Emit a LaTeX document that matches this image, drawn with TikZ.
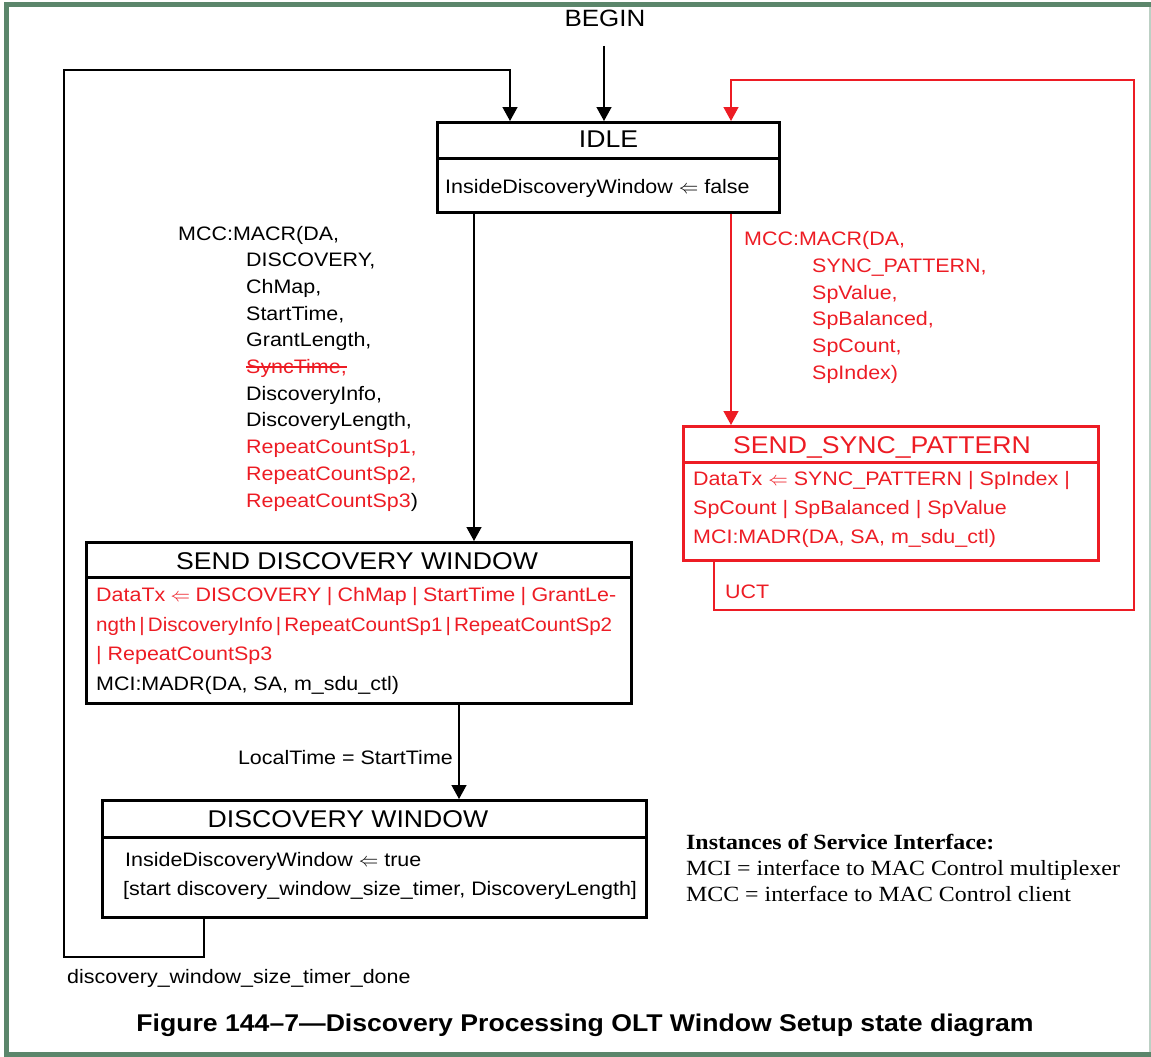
\RequirePackage{fix-cm}
\documentclass[tikz,border=0pt]{standalone}
\usepackage{graphicx}
\usepackage{fontspec}
\setmainfont{Liberation Sans}[FakeStretch=1.1]
\newfontfamily\legendfont{Liberation Serif}[FakeStretch=1.1]
\usetikzlibrary{arrows.meta}

\definecolor{sred}{RGB}{237,28,36}
\definecolor{frame}{RGB}{91,134,107}
\definecolor{framelt}{RGB}{188,208,196}

% struck-through text
\newsavebox\strikebox
\newcommand\strikeout[1]{\sbox\strikebox{#1}\rlap{\rule[0.3em]{\wd\strikebox}{0.075em}}\usebox\strikebox}
\newcommand\lar{\ensuremath{\Leftarrow}}

\begin{document}
\begin{tikzpicture}[x=1pt,y=-1pt,
  txt/.style={inner sep=0pt, font=\fontsize{19.5}{26.7}\selectfont},
  ttl/.style={inner sep=0pt, anchor=base, font=\fontsize{24.2}{28}\selectfont},
  sbox/.style={draw, line width=3pt, inner sep=0pt},
  divider/.style={line width=3pt},
  link/.style={line width=1.4pt, -{Triangle[width=15pt,length=14pt]}},
]
\useasboundingbox (0,0) rectangle (1151,1057);

% page frame
\draw[frame, line width=5pt] (6.5,1057) -- (6.5,4.5) -- (1151,4.5);
\draw[frame, line width=5pt] (4,1054.5) -- (1151,1054.5);
\draw[framelt, line width=1.5pt] (1149.75,7) -- (1149.75,1052);

% IDLE
\node[sbox, minimum width=342pt, minimum height=90pt] (idle) at (608.5,167.5) {};
\draw[divider] (idle.west |- 0,158) -- (idle.east |- 0,158);
\node[ttl] (idlettl) at (608.5,147) {IDLE};
\node[txt, anchor=base west] (idletxt) at (445,193) {InsideDiscoveryWindow \lar{} false};

% SEND_SYNC_PATTERN
\node[sbox, draw=sred, minimum width=415pt, minimum height=134pt] (ssp) at (891,493.5) {};
\draw[divider, sred] (ssp.west |- 0,462) -- (ssp.east |- 0,462);
\node[ttl, sred] (sspttl) at (882,453) {SEND\_SYNC\_PATTERN};
\node[txt, sred, anchor=base west, font=\fontsize{19.5}{29.3}\selectfont] (ssptxt) at (693,485)
  {\begin{tabular}[t]{@{}l@{}}DataTx \lar{} SYNC\_PATTERN | SpIndex |\\
   SpCount | SpBalanced | SpValue\\
   MCI:MADR(DA, SA, m\_sdu\_ctl)\end{tabular}};

% SEND DISCOVERY WINDOW
\node[sbox, minimum width=545pt, minimum height=161pt] (sdw) at (359,623) {};
\draw[divider] (sdw.west |- 0,577) -- (sdw.east |- 0,577);
\node[ttl] (sdwttl) at (357,569) {SEND DISCOVERY WINDOW};
\node[txt, anchor=base west, font=\fontsize{19.5}{29.5}\selectfont] (sdwtxt) at (96,601.5)
  {\begin{tabular}[t]{@{}l@{}}\textcolor{sred}{\makebox[520pt][s]{DataTx \lar{} DISCOVERY | ChMap | StartTime | GrantLe-}}\\
   \textcolor{sred}{\resizebox{516pt}{\height}{ngth\,|\,DiscoveryInfo\,|\,RepeatCountSp1\,|\,RepeatCountSp2}}\\
   \textcolor{sred}{| RepeatCountSp3}\\
   MCI:MADR(DA, SA, m\_sdu\_ctl)\end{tabular}};

% DISCOVERY WINDOW
\node[sbox, minimum width=544pt, minimum height=117pt] (dw) at (374.5,859) {};
\draw[divider] (dw.west |- 0,837) -- (dw.east |- 0,837);
\node[ttl] (dwttl) at (348,827) {DISCOVERY WINDOW};
\node[txt, anchor=base west, font=\fontsize{19.5}{29}\selectfont] (dwtxt) at (123,866)
  {\begin{tabular}[t]{@{}l@{}}\hspace{2pt}InsideDiscoveryWindow \lar{} true\\
   {[start discovery\_window\_size\_timer, DiscoveryLength]}\end{tabular}};

% transition conditions
\node[ttl, font=\fontsize{23.6}{28}\selectfont] (begin) at (605,27) {BEGIN};
\node[txt, anchor=base west] (mcc1) at (178,240) {MCC:MACR(DA,};
\node[txt, anchor=base west] (mcc2) at (246,266.7)
  {\begin{tabular}[t]{@{}l@{}}DISCOVERY,\\ ChMap,\\ StartTime,\\ GrantLength,\\
   \textcolor{sred}{\strikeout{SyncTime,}}\\ DiscoveryInfo,\\ DiscoveryLength,\\
   \textcolor{sred}{RepeatCountSp1,}\\ \textcolor{sred}{RepeatCountSp2,}\\
   \textcolor{sred}{RepeatCountSp3})\end{tabular}};
\node[txt, sred, anchor=base west] (mccr1) at (744,245.7) {MCC:MACR(DA,};
\node[txt, sred, anchor=base west] (mccr2) at (812,272.4)
  {\begin{tabular}[t]{@{}l@{}}SYNC\_PATTERN,\\ SpValue,\\ SpBalanced,\\ SpCount,\\ SpIndex)\end{tabular}};
\node[txt, anchor=base east] (ltlbl) at (453,764) {LocalTime = StartTime};
\node[txt, sred, anchor=base west] (uct) at (725,598) {UCT};
\node[txt, anchor=base west] (donelbl) at (67,983) {discovery\_window\_size\_timer\_done};

% legend and caption
\node[anchor=base west, inner sep=0pt, font=\legendfont\fontsize{21.7}{26}\selectfont] (legend) at (686,849)
  {\begin{tabular}[t]{@{}l@{}}\textbf{Instances of Service Interface:}\\
   MCI = interface to MAC Control multiplexer\\
   MCC = interface to MAC Control client\end{tabular}};
\node[anchor=base, inner sep=0pt, font=\bfseries\fontsize{24.2}{29}\selectfont] (caption) at (585,1031.5)
  {Figure 144–7—Discovery Processing OLT Window Setup state diagram};

% connectors
\coordinate (bgn) at (604,46);
\draw[link] (bgn) -- (idle.north -| bgn);

\coordinate (lp1) at (204,957);
\coordinate (lp2) at (64,957);
\coordinate (lp3) at (64,70);
\coordinate (lp4) at (510,70);
\draw[link] (dw.south -| lp1) -- (lp1) -- (lp2) -- (lp3) -- (lp4) -- (idle.north -| lp4);

\coordinate (dn1) at (474,0);
\draw[link] (idle.south -| dn1) -- (sdw.north -| dn1);
\coordinate (dn2) at (459,0);
\draw[link] (sdw.south -| dn2) -- (dw.north -| dn2);
\coordinate (dn3) at (731,0);
\draw[link, sred] (idle.south -| dn3) -- (ssp.north -| dn3);

\coordinate (rl1) at (714,610);
\coordinate (rl2) at (1134,610);
\coordinate (rl3) at (1134,80);
\coordinate (rl4) at (731,80);
\draw[link, sred] (ssp.south -| rl1) -- (rl1) -- (rl2) -- (rl3) -- (rl4) -- (idle.north -| rl4);
\end{tikzpicture}
\end{document}
